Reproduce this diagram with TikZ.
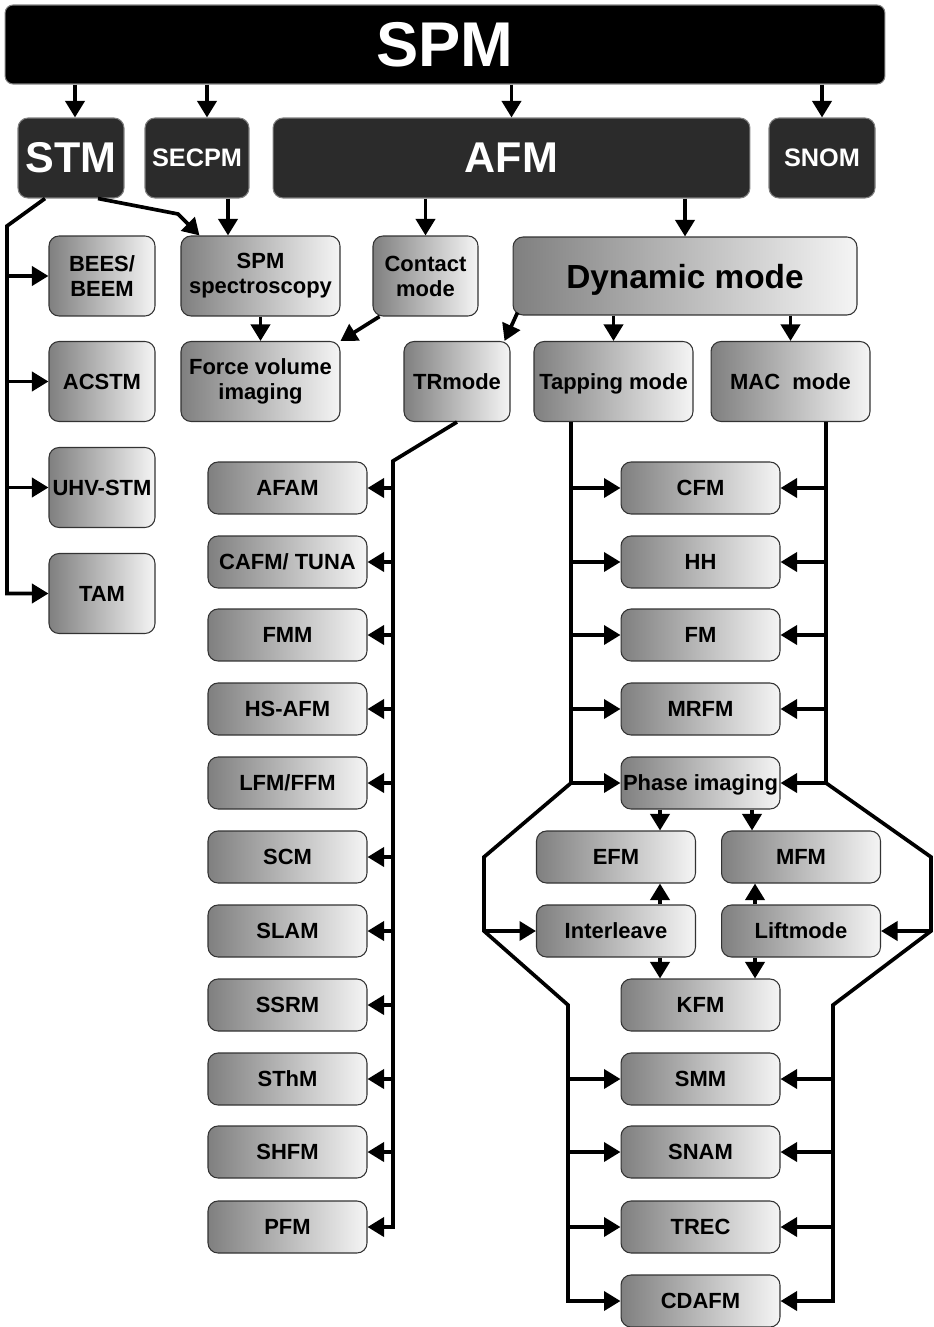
\documentclass[tikz,border=0pt]{standalone}
\usepackage{fontspec}
\setmainfont{Liberation Sans}
\usetikzlibrary{arrows.meta}
\definecolor{BoxDark}{rgb}{0.17,0.17,0.17}
\definecolor{BoxEdge}{rgb}{0.2,0.2,0.2}
\definecolor{ShadeLeft}{rgb}{0.5,0.5,0.5}
\definecolor{ShadeRight}{rgb}{0.96,0.96,0.96}

\begin{document}
\begin{tikzpicture}[x=0.02cm,y=-0.02cm,
  box/.style={draw=BoxEdge,line width=0.6pt,rounded corners=0.2cm,left color=ShadeLeft,right color=ShadeRight,
    font=\fontsize{12.5}{14.2}\selectfont\bfseries,align=center,inner sep=0pt,minimum height=1.04cm,minimum width=3.18cm},
  tallbox/.style={box,minimum height=1.6cm},
  darkbox/.style={draw=black!50,line width=0.6pt,fill=BoxDark,text=white,rounded corners=0.2cm,inner sep=0pt,minimum height=1.6cm,align=center},
  arr/.style={line width=2.1pt,-{Triangle[length=0.33cm,width=0.38cm]}}]
\useasboundingbox (0,0) rectangle (933,1327);

\node[darkbox,fill=black,minimum width=17.6cm,minimum height=1.58cm,rounded corners=0.16cm,font=\fontsize{36}{38}\selectfont\bfseries] (spm) at (445,44.5) {SPM};

\node[darkbox,minimum width=2.12cm,font=\fontsize{24.5}{26}\selectfont\bfseries] (stm) at (71,158) {STM};
\node[darkbox,minimum width=2.08cm,font=\fontsize{14.4}{16}\selectfont\bfseries] (secpm) at (197,158) {SECPM};
\node[darkbox,minimum width=9.54cm,font=\fontsize{24.5}{26}\selectfont\bfseries] (afm) at (511.5,158) {AFM};
\node[darkbox,minimum width=2.12cm,font=\fontsize{14.4}{16}\selectfont\bfseries] (snom) at (822,158) {SNOM};

\node[tallbox,minimum width=2.12cm] (bees) at (102,276) {BEES/\\BEEM};
\node[tallbox] (spmspec) at (260.5,276) {SPM\\spectroscopy};
\node[tallbox,minimum width=2.1cm] (contact) at (425.5,276) {Contact\\mode};
\node[tallbox,minimum width=6.88cm,minimum height=1.56cm,text depth=0pt,font=\fontsize{19}{21}\selectfont\bfseries] (dynamic) at (685,276) {Dynamic mode};

\node[tallbox,minimum width=2.12cm] (acstm) at (102,381.5) {ACSTM};
\node[tallbox] (forcevol) at (260.5,381.5) {Force volume\\imaging};
\node[tallbox,minimum width=2.12cm] (trmode) at (457,381.5) {TRmode};
\node[tallbox,text depth=0pt] (tapping) at (613.5,381.5) {Tapping mode};
\node[tallbox] (mac) at (790.5,381.5) {MAC~~mode};

\node[tallbox,minimum width=2.12cm] (uhvstm) at (102,487.5) {UHV-STM};
\node[tallbox,minimum width=2.12cm] (tam) at (102,593.5) {TAM};

\node[box] (afam) at (287.5,488) {AFAM};
\node[box] (cafm) at (287.5,562) {CAFM/ TUNA};
\node[box] (fmm) at (287.5,635) {FMM};
\node[box] (hsafm) at (287.5,709) {HS-AFM};
\node[box] (lfm) at (287.5,783) {LFM/FFM};
\node[box] (scm) at (287.5,857) {SCM};
\node[box] (slam) at (287.5,931) {SLAM};
\node[box] (ssrm) at (287.5,1005) {SSRM};
\node[box] (sthm) at (287.5,1079) {SThM};
\node[box] (shfm) at (287.5,1152) {SHFM};
\node[box] (pfm) at (287.5,1227) {PFM};

\node[box] (cfm) at (700.5,488) {CFM};
\node[box] (hh) at (700.5,562) {HH};
\node[box] (fm) at (700.5,635) {FM};
\node[box] (mrfm) at (700.5,709) {MRFM};
\node[box,text depth=0pt] (phase) at (700.5,783) {Phase imaging};
\node[box] (efm) at (616,857) {EFM};
\node[box] (mfm) at (801,857) {MFM};
\node[box] (interleave) at (616,931) {Interleave};
\node[box] (liftmode) at (801,931) {Liftmode};
\node[box] (kfm) at (700.5,1005) {KFM};
\node[box] (smm) at (700.5,1079) {SMM};
\node[box] (snam) at (700.5,1152) {SNAM};
\node[box] (trec) at (700.5,1227) {TREC};
\node[box] (cdafm) at (700.5,1301) {CDAFM};

% SPM to the four techniques
\coordinate (stmtop) at ([xshift=0.08cm]stm.north);
\coordinate (secpmtop) at ([xshift=0.2cm]secpm.north);
\draw[arr] (stmtop |- spm.south) -- (stmtop);
\draw[arr] (secpmtop |- spm.south) -- (secpmtop);
\draw[arr] (afm.north |- spm.south) -- (afm.north);
\draw[arr] (snom.north |- spm.south) -- (snom.north);

% STM
\coordinate (stmleft) at ([xshift=-0.52cm]stm.south);
\coordinate (stmbus) at (7,226);
\draw[arr] (stmleft) -- (stmbus) -- (stmbus |- tam) -- (tam.west);
\draw[arr] (stmbus |- bees) -- (bees.west);
\draw[arr] (stmbus |- acstm) -- (acstm.west);
\draw[arr] (stmbus |- uhvstm) -- (uhvstm.west);
\coordinate (stmright) at ([xshift=0.54cm]stm.south);
\coordinate (stmknee) at (178,214);
\coordinate (spectop) at ([xshift=0.38cm]spmspec.north west);
\draw[arr] (stmright) -- (stmknee) -- (spectop);
\coordinate (secpmbot) at ([xshift=0.62cm]secpm.south);
\draw[arr] (secpmbot) -- (secpmbot |- spmspec.north);

% AFM
\draw[arr] (contact.north |- afm.south) -- (contact.north);
\draw[arr] (dynamic.north |- afm.south) -- (dynamic.north);
\draw[arr] (spmspec) -- (forcevol);
\draw[arr] ([xshift=0.14cm]contact.south west) -- (forcevol.north east);
\draw[arr] ([xshift=0.1cm,yshift=0.06cm]dynamic.south west) -- ([xshift=-0.12cm]trmode.north east);
\draw[arr] (tapping.north |- dynamic.south) -- (tapping.north);
\draw[arr] (mac.north |- dynamic.south) -- (mac.north);

% TR mode
\coordinate (trbus) at (393,461);
\draw[arr] (trmode.south) -- (trbus) -- (trbus |- pfm) -- (pfm.east);
\draw[arr] (trbus |- afam) -- (afam.east);
\draw[arr] (trbus |- cafm) -- (cafm.east);
\draw[arr] (trbus |- fmm) -- (fmm.east);
\draw[arr] (trbus |- hsafm) -- (hsafm.east);
\draw[arr] (trbus |- lfm) -- (lfm.east);
\draw[arr] (trbus |- scm) -- (scm.east);
\draw[arr] (trbus |- slam) -- (slam.east);
\draw[arr] (trbus |- ssrm) -- (ssrm.east);
\draw[arr] (trbus |- sthm) -- (sthm.east);
\draw[arr] (trbus |- shfm) -- (shfm.east);

% Tapping and MAC mode
\coordinate (tapbus) at ([xshift=-0.85cm]tapping.south);
\coordinate (macbus) at ([xshift=0.71cm]mac.south);
\draw[arr] (tapbus) -- (tapbus |- phase) -- (phase.west);
\draw[arr] (tapbus |- cfm) -- (cfm.west);
\draw[arr] (tapbus |- hh) -- (hh.west);
\draw[arr] (tapbus |- fm) -- (fm.west);
\draw[arr] (tapbus |- mrfm) -- (mrfm.west);
\draw[arr] (macbus) -- (macbus |- phase) -- (phase.east);
\draw[arr] (macbus |- cfm) -- (cfm.east);
\draw[arr] (macbus |- hh) -- (hh.east);
\draw[arr] (macbus |- fm) -- (fm.east);
\draw[arr] (macbus |- mrfm) -- (mrfm.east);

\coordinate (octl1) at (484,857);
\coordinate (octl2) at (484,931);
\coordinate (lowl) at (568,1005);
\draw[arr] (tapbus |- phase) -- (octl1) -- (octl2) -- (lowl) -- (lowl |- cdafm) -- (cdafm.west);
\draw[arr] (octl2) -- (interleave.west);
\draw[arr] (lowl |- smm) -- (smm.west);
\draw[arr] (lowl |- snam) -- (snam.west);
\draw[arr] (lowl |- trec) -- (trec.west);
\coordinate (octr1) at (931,857);
\coordinate (octr2) at (931,931);
\coordinate (lowr) at (833,1005);
\draw[arr] (macbus |- phase) -- (octr1) -- (octr2) -- (lowr) -- (lowr |- cdafm) -- (cdafm.east);
\draw[arr] (octr2) -- (liftmode.east);
\draw[arr] (lowr |- smm) -- (smm.east);
\draw[arr] (lowr |- snam) -- (snam.east);
\draw[arr] (lowr |- trec) -- (trec.east);

% phase, interleave and lift mode
\coordinate (efmin) at ([xshift=0.88cm]efm.north);
\coordinate (mfmin) at ([xshift=-0.98cm]mfm.north);
\draw[arr] (efmin |- phase.south) -- (efmin);
\draw[arr] (mfmin |- phase.south) -- (mfmin);
\coordinate (interup) at ([xshift=0.88cm]interleave.north);
\coordinate (interdn) at ([xshift=0.88cm]interleave.south);
\draw[arr] (interup) -- (interup |- efm.south);
\draw[arr] (interdn) -- (interdn |- kfm.north);
\coordinate (liftup) at ([xshift=-0.92cm]liftmode.north);
\coordinate (liftdn) at ([xshift=-0.92cm]liftmode.south);
\draw[arr] (liftup) -- (liftup |- mfm.south);
\draw[arr] (liftdn) -- (liftdn |- kfm.north);

\end{tikzpicture}
\end{document}
